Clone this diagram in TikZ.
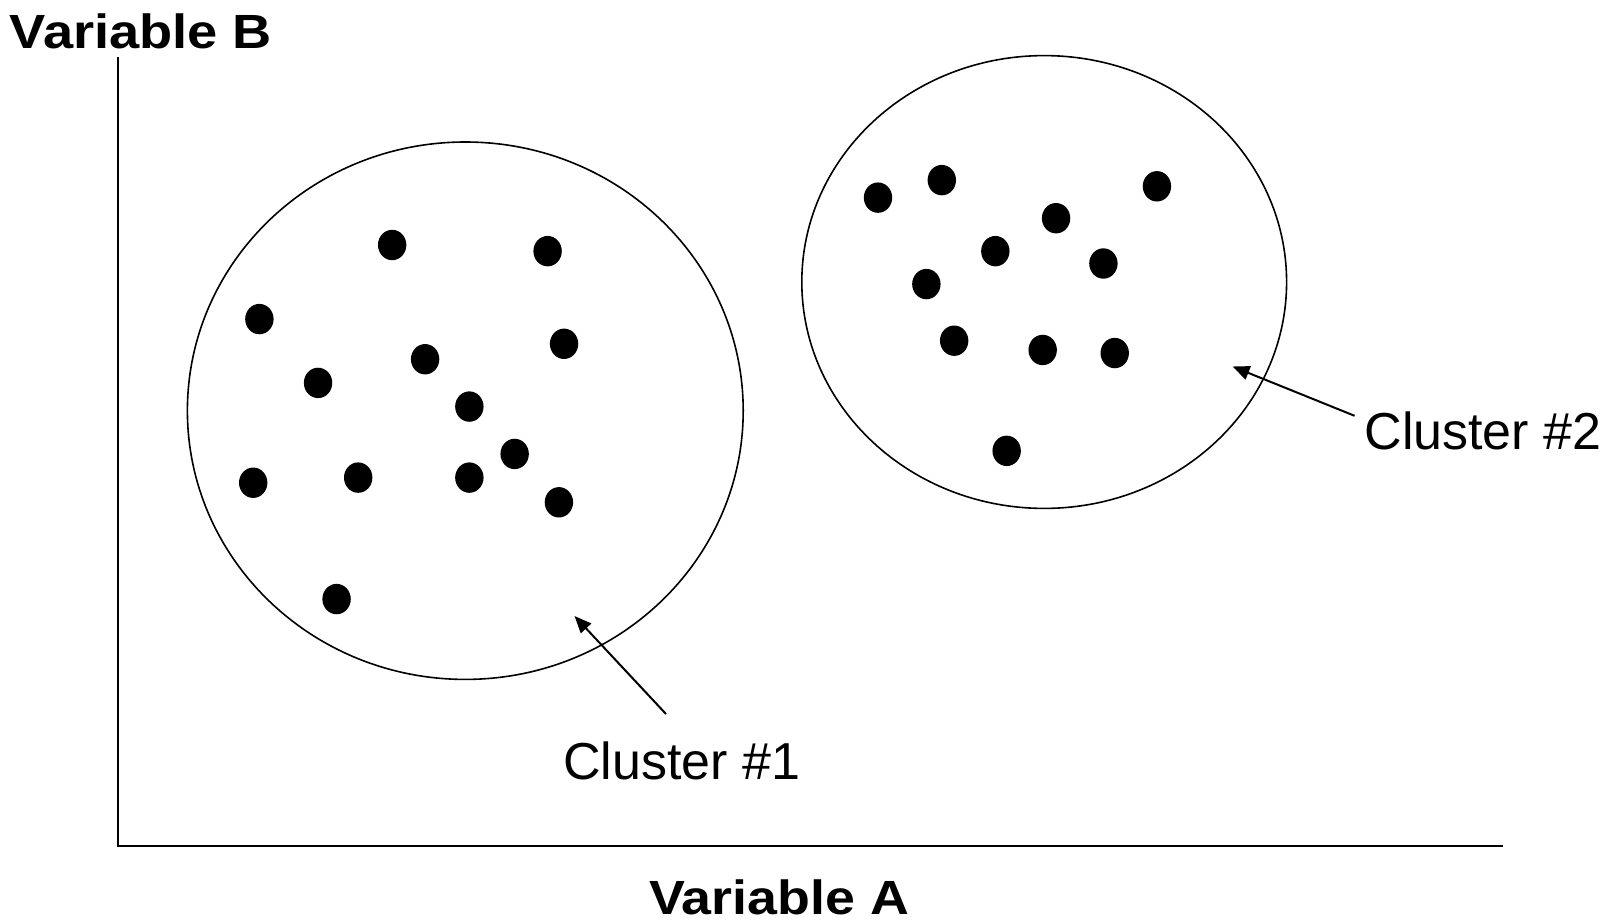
\documentclass[tikz,border=0pt]{standalone}
\usepackage{fontspec}
\setmainfont{Liberation Sans}
\usetikzlibrary{arrows.meta}
\begin{document}
\begin{tikzpicture}[x=1pt,y=-1pt,
  axis/.style={line width=1.5pt},
  clus/.style={line width=1.6pt},
  dot/.style={fill=black},
  pointer/.style={line width=2pt,-{Triangle[length=17pt,width=14pt]}},
  axlabel/.style={inner sep=0pt,font=\fontsize{48}{52}\selectfont\bfseries},
  cllabel/.style={inner sep=0pt,font=\fontsize{52}{56}\selectfont}]
\useasboundingbox (0,0) rectangle (1614,921);
% axes
\coordinate (top) at (118,57);
\coordinate (origin) at (118,846);
\coordinate (right) at (1503,846);
\draw[axis] (top) -- (origin) -- (right);
% clusters
\draw[clus] (465.3,410.7) ellipse [x radius=277.9, y radius=268.7];
\draw[clus] (1044.2,282.0) ellipse [x radius=242.4, y radius=226.4];
% dots cluster 1
\foreach \x/\y in {381/238,532/244,252/310,548/334,413/349,309/372,456/395,500/441,246/469,348/464,456/464,543/488,327/582}
  \fill[dot] ({\x*1.0293},{\y*1.0293}) ellipse [x radius=14.2, y radius=15.2];
% dots cluster 2
\foreach \x/\y in {853/192,915/175,1124/181,1026/212,967/244,1072/256,900/276,927/331,1013/340,1083/343,978/438}
  \fill[dot] ({\x*1.0293},{\y*1.0293}) ellipse [x radius=14.2, y radius=15.2];
% labels
\node[axlabel] (vb) at (141,31) {\scalebox{1.13}[1]{Variable B}};
\node[axlabel] (va) at (779,897) {\scalebox{1.12}[1]{Variable A}};
\node[cllabel] (c1) at (681.5,761) {Cluster \#1};
\node[cllabel] (c2) at (1483,431) {Cluster \#2};
% pointers
\coordinate (c1tail) at (666,714);
\coordinate (c1tip) at (574.5,616);
\coordinate (c2tail) at (1354.6,415.8);
\coordinate (c2tip) at (1232.5,366.5);
\draw[pointer] (c1tail) -- (c1tip);
\draw[pointer] (c2tail) -- (c2tip);
\end{tikzpicture}
\end{document}
